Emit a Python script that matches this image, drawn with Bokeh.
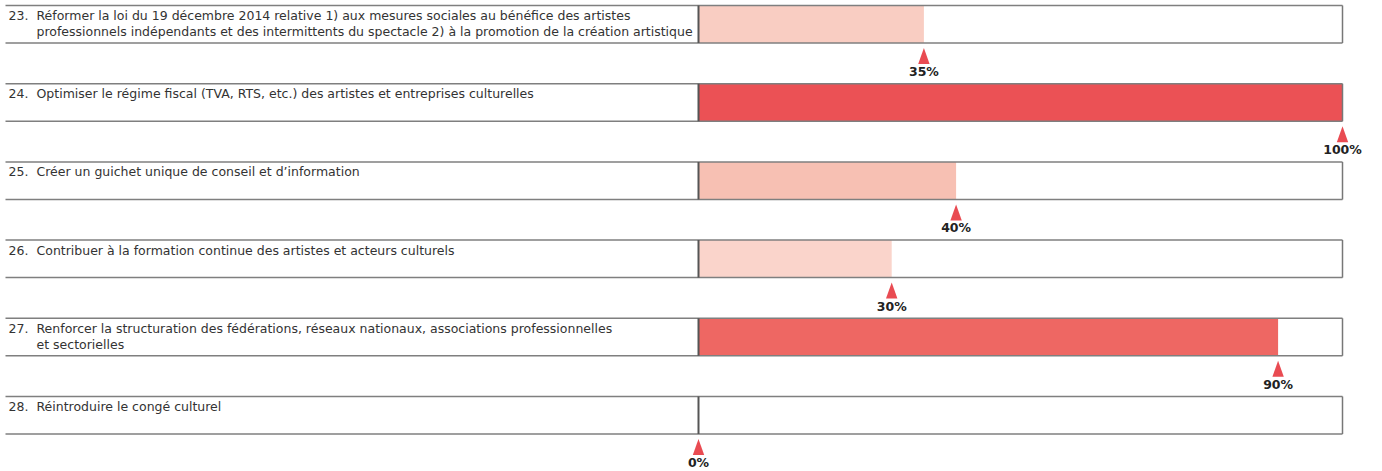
from bokeh.plotting import figure
from bokeh.models import Range1d, ColumnDataSource
from bokeh.core.properties import value
from bokeh.embed import file_html
from bokeh.resources import INLINE

# ---- data ----
numbers = ["23.", "24.", "25.", "26.", "27.", "28."]
labels = [
    ["Réformer la loi du 19 décembre 2014 relative 1) aux mesures sociales au bénéfice des artistes",
     "professionnels indépendants et des intermittents du spectacle 2) à la promotion de la création artistique"],
    ["Optimiser le régime fiscal (TVA, RTS, etc.) des artistes et entreprises culturelles"],
    ["Créer un guichet unique de conseil et d’information"],
    ["Contribuer à la formation continue des artistes et acteurs culturels"],
    ["Renforcer la structuration des fédérations, réseaux nationaux, associations professionnelles",
     "et sectorielles"],
    ["Réintroduire le congé culturel"],
]
percent = [35, 100, 40, 30, 90, 0]
bar_colors = ["#F9CDC2", "#EB5155", "#F7C0B3", "#FAD4CB", "#EE6763", "#FFFFFF"]

# ---- layout constants (pixels) ----
W, H = 1380, 470
X0_PX = 698          # pixel of 0 %
PX_PER_PCT = 6.44    # pixels per percent
TOP0 = 5
PITCH = 78.2
ROW_H = 37.5
LEFT_PX = 5

def px2x(px):
    return (px - X0_PX) / PX_PER_PCT

p = figure(width=W, height=H, output_backend="svg", toolbar_location=None,
           x_range=Range1d(px2x(0), px2x(W)), y_range=Range1d(H, 0),
           min_border=0, outline_line_color=None, background_fill_color="white")
p.axis.visible = False
p.grid.visible = False

n = len(percent)
tops = [TOP0 + i * PITCH for i in range(n)]
bottoms = [t + ROW_H for t in tops]

# bars
bars = ColumnDataSource(dict(left=[0] * n, right=percent, top=tops, bottom=bottoms, color=bar_colors))
p.quad(left="left", right="right", top="top", bottom="bottom", fill_color="color",
       line_color=None, source=bars)

# frame lines
x_left = px2x(LEFT_PX)
p.segment(x0=[x_left] * n, x1=[100] * n, y0=tops, y1=tops, line_color="#7f7f7f", line_width=1.5)
p.segment(x0=[x_left] * n, x1=[100] * n, y0=bottoms, y1=bottoms, line_color="#7f7f7f", line_width=1.5)
p.segment(x0=[100] * n, x1=[100] * n, y0=tops, y1=bottoms, line_color="#777777", line_width=1.5)
p.segment(x0=[0] * n, x1=[0] * n, y0=tops, y1=bottoms, line_color="#555555", line_width=2)

# triangles
hw = 5.7 / PX_PER_PCT
tri_xs = [[v - hw, v + hw, v] for v in percent]
tri_ys = [[b + 21, b + 21, b + 5] for b in bottoms]
p.patches(xs=tri_xs, ys=tri_ys, fill_color="#E94B52", line_color=None)

# percent labels
p.text(x=percent, y=[b + 28.5 for b in bottoms], text=[f"{v}%" for v in percent],
       text_font=value("DejaVu Sans"), text_font_style="bold", text_font_size="12.5px",
       text_color="#222222", text_align="center", text_baseline="middle")

FONT = value("DejaVu Sans")
FS = "12.5px"

# row numbers
p.text(x=[px2x(8)] * n, y=[t + 10 for t in tops], text=numbers,
       text_font=FONT, text_font_size=FS, text_color="#333333",
       text_align="left", text_baseline="middle")

# label lines
lx, ly, lt = [], [], []
for i, lines in enumerate(labels):
    for j, line in enumerate(lines):
        lx.append(px2x(36))
        ly.append(tops[i] + 10 + 16 * j)
        lt.append(line)
p.text(x=lx, y=ly, text=lt, text_font=FONT, text_font_size=FS,
       text_color="#333333", text_align="left", text_baseline="middle")

open("out.html", "w").write(file_html(p, INLINE))
